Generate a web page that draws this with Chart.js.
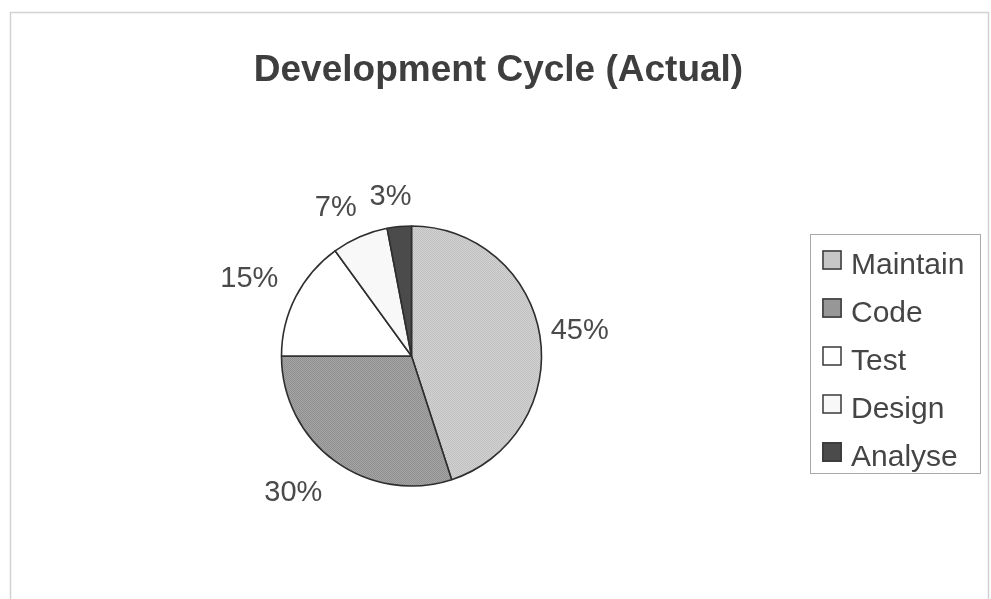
<!DOCTYPE html>
<html lang="en">
<head>
    <meta charset="UTF-8">
    <title>Development Cycle (Actual)</title>
    <script src="https://cdn.jsdelivr.net/npm/chart.js"></script>
    <style>
        html, body { margin: 0; padding: 0; background: #fff; }
        #wrap { width: 991px; height: 599px; }
    </style>
</head>
<body>
<div id="wrap"><canvas id="pieChart" width="991" height="599"></canvas></div>
<script>
// chart data
const categories = ["Maintain", "Code", "Test", "Design", "Analyse"];
const shares = [45, 30, 15, 7, 3];
const chartTitle = "Development Cycle (Actual)";

const textColor = "#454545";
const fontFamily = "'Liberation Sans', Arial, sans-serif";

// fine stipple, like the printed fill
function stipple(base, dot) {
    const c = document.createElement("canvas");
    c.width = 2; c.height = 2;
    const g = c.getContext("2d");
    g.fillStyle = base;
    g.fillRect(0, 0, 2, 2);
    g.fillStyle = dot;
    g.fillRect(0, 0, 1, 1);
    g.fillRect(1, 1, 1, 1);
    return g.createPattern(c, "repeat");
}

const sliceFills = [
    stipple("#d2d2d2", "#c0c0c0"),
    stipple("#a4a4a4", "#909090"),
    "#ffffff",
    "#f8f8f8",
    "#4b4b4b"
];
const swatchFills = ["#c6c6c6", "#979797", "#ffffff", "#f8f8f8", "#4b4b4b"];

// frame, title, percentage labels and the boxed legend
const decorations = {
    id: "decorations",
    beforeDraw(chart) {
        const ctx = chart.ctx;
        ctx.save();
        ctx.fillStyle = "#fff";
        ctx.fillRect(0, 0, chart.width, chart.height);
        ctx.strokeStyle = "#d2d2d2";
        ctx.lineWidth = 1.5;
        ctx.beginPath();
        ctx.moveTo(10.5, chart.height);
        ctx.lineTo(10.5, 12.5);
        ctx.lineTo(988.5, 12.5);
        ctx.lineTo(988.5, chart.height);
        ctx.stroke();
        ctx.restore();
    },
    afterDraw(chart) {
        const ctx = chart.ctx;
        ctx.save();

        // title
        ctx.fillStyle = "#3e3e3e";
        ctx.font = "bold 37px " + fontFamily;
        ctx.textAlign = "center";
        ctx.textBaseline = "alphabetic";
        ctx.fillText(chartTitle, 498.5, 81);

        // percentage labels outside each slice
        const fs = 29;
        ctx.font = fs + "px " + fontFamily;
        ctx.fillStyle = "#4a4a4a";
        const meta = chart.getDatasetMeta(0);
        const total = shares.reduce((a, b) => a + b, 0);
        meta.data.forEach((arc, i) => {
            const mid = (arc.startAngle + arc.endAngle) / 2;
            const dx = Math.cos(mid), dy = Math.sin(mid);
            const r = arc.outerRadius + 15;
            const txt = Math.round(shares[i] / total * 100) + "%";
            const hw = ctx.measureText(txt).width / 2;
            const hh = 17;
            const x = arc.x + dx * r + Math.sign(dx) * hw * Math.min(1, Math.abs(dx) * 1.7) - 4;
            const y = arc.y + dy * r + Math.sign(dy) * hh * Math.min(1, Math.abs(dy) * 1.7);
            ctx.fillText(txt, x, y + fs * 0.358);
        });

        // legend box
        ctx.strokeStyle = "#a8a8a8";
        ctx.lineWidth = 1;
        ctx.strokeRect(810.5, 234.5, 170, 239);
        ctx.textAlign = "left";
        ctx.font = "30px " + fontFamily;
        categories.forEach((name, i) => {
            const cy = 260 + i * 48;
            ctx.fillStyle = swatchFills[i];
            ctx.fillRect(822, cy - 10, 20, 20);
            ctx.strokeStyle = "#3a3a3a";
            ctx.lineWidth = 1.5;
            ctx.strokeRect(823, cy - 9, 18, 18);
            ctx.fillStyle = textColor;
            ctx.fillText(name, 851, cy + 14);
        });

        ctx.restore();
    }
};

new Chart(document.getElementById("pieChart"), {
    type: "pie",
    data: {
        labels: categories,
        datasets: [{
            data: shares,
            backgroundColor: sliceFills,
            borderColor: "#2e2e2e",
            borderWidth: 1.6,
            borderAlign: "center"
        }]
    },
    options: {
        responsive: false,
        animation: false,
        events: [],
        radius: 130,
        rotation: 0,
        layout: {
            padding: { left: 281, right: 449, top: 226, bottom: 113 }
        },
        plugins: {
            legend: { display: false },
            title: { display: false },
            tooltip: { enabled: false }
        }
    },
    plugins: [decorations]
});
</script>
</body>
</html>
